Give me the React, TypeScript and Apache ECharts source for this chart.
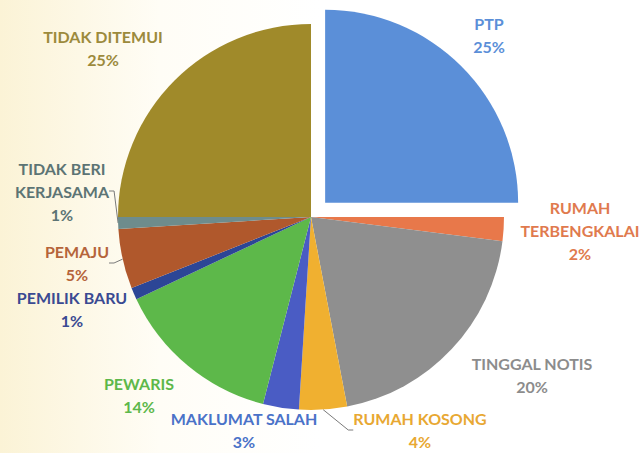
import React, { useEffect, useRef } from "react";
import * as echarts from "echarts";

const categories = [
  "PTP",
  "RUMAH\nTERBENGKALAI",
  "TINGGAL NOTIS",
  "RUMAH KOSONG",
  "MAKLUMAT SALAH",
  "PEWARIS",
  "PEMILIK BARU",
  "PEMAJU",
  "TIDAK BERI\nKERJASAMA",
  "TIDAK DITEMUI",
];
const values = [25, 2, 20, 4, 3, 14, 1, 5, 1, 25];
const sliceColors = [
  "#5B8FD8", "#E8784A", "#8F8F8F", "#F0B030", "#4A5CC4",
  "#5DB84A", "#2C4696", "#B0582C", "#6E8C8C", "#A08A2A",
];
const labelColors = [
  "#5B8FD8", "#E07A4E", "#8C8C8C", "#E8A832", "#4A72C8",
  "#5DB84A", "#3A4A92", "#B5643A", "#5C7474", "#9C8A3C",
];
// label centre positions (px)
const labelPos: [number, number][] = [
  [489, 35], [580, 230], [532, 375], [420, 430], [244, 430],
  [139, 395], [72, 309], [77, 263], [62, 191], [103, 48],
];
const showLine = [false, false, false, true, false, false, false, true, true, false];

export default function App() {
  const ref = useRef<HTMLDivElement>(null);
  useEffect(() => {
    document.body.style.margin = "0";
    const chart = echarts.init(ref.current!, null, { renderer: "svg" });
    const total = values.reduce((a, b) => a + b, 0);
    const font = { fontFamily: "Lato", fontWeight: "bold", fontSize: 16, lineHeight: 23 };
    chart.setOption({
      animation: false,
      backgroundColor: {
        type: "linear", x: 0, y: 0, x2: 1, y2: 0,
        colorStops: [
          { offset: 0, color: "#FBF3D6" },
          { offset: 0.25, color: "#FFFDF6" },
          { offset: 0.5, color: "#FFFFFF" },
          { offset: 1, color: "#FFFFFF" },
        ],
      },
      graphic: [
        {
          type: "text",
          x: labelPos[0][0],
          y: labelPos[0][1],
          z: 10,
          style: {
            text: `${categories[0]}\n${Math.round((values[0] / total) * 100)}%`,
            fill: labelColors[0],
            align: "center",
            verticalAlign: "middle",
            ...font,
          },
        },
      ],
      series: [
        {
          type: "pie",
          center: [311, 217],
          radius: 193,
          startAngle: 90,
          clockwise: true,
          selectedMode: "single",
          selectedOffset: 20,
          avoidLabelOverlap: false,
          label: {
            show: true,
            formatter: "{b}\n{d}%",
            align: "center",
            ...font,
          },
          labelLine: { show: false, length: 5, length2: 5, lineStyle: { color: "#7A7A7A", width: 1 } },
          labelLayout: (params: any) => {
            const p = labelPos[params.dataIndex];
            return { x: p[0], y: p[1], align: "center", verticalAlign: "middle" };
          },
          data: categories.map((name, i) => ({
            name,
            value: values[i],
            selected: i === 0,
            itemStyle: { color: sliceColors[i] },
            label: { color: labelColors[i], show: i !== 0 },
            labelLine: { show: showLine[i] },
          })),
        },
      ],
    });
    return () => chart.dispose();
  }, []);
  return <div ref={ref} style={{ width: 640, height: 453 }} />;
}
